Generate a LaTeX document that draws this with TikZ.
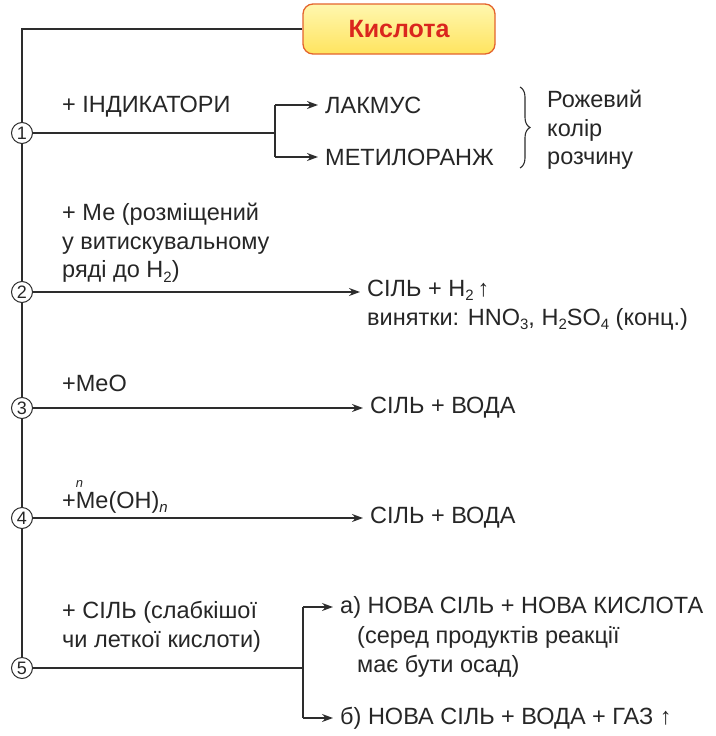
\documentclass[tikz,border=0pt]{standalone}
\usepackage{fontspec}
\setmainfont{Liberation Sans}
\usetikzlibrary{positioning,arrows.meta,decorations.pathreplacing}
\definecolor{kboxtop}{RGB}{255,247,175}
\definecolor{kboxbot}{RGB}{255,228,95}
\definecolor{kboxdraw}{RGB}{228,100,45}
\definecolor{ktitle}{RGB}{218,38,30}
\definecolor{kline}{RGB}{45,45,45}
\newcommand{\ksub}[1]{\raisebox{-0.35ex}{\fontsize{15}{15}\selectfont #1}}

\begin{document}
\begin{tikzpicture}[x=1pt, y=-1pt, every node/.style={font=\fontsize{23.5}{28.5}\selectfont, text=black!85}]
  \tikzset{
    num/.style={draw=kline, circle, line width=1pt, inner sep=0pt, minimum size=21pt, fill=white, font=\fontsize{18}{18}\selectfont},
    wire/.style={kline, line width=1.4pt},
    arr/.style={wire, -{Stealth[length=11pt, width=8pt]}, shorten >=7pt},
    lbl/.style={anchor=west, align=left, inner sep=0pt}
  }
  \useasboundingbox (0,0) rectangle (715,736);

  % Head: the acid box
  \node[draw=kboxdraw, line width=1.3pt, rounded corners=10pt, top color=kboxtop, bottom color=kboxbot,
        minimum width=192pt, minimum height=50pt, text=ktitle,
        font=\fontsize{25}{25}\selectfont\bfseries] (acid) at (399,29) {Кислота};

  % Main line with the numbered steps
  \node[num] (c1) at (22,133) {1};
  \node[num] (c2) at (22,292) {2};
  \node[num] (c3) at (22,408) {3};
  \node[num] (c4) at (22,518) {4};
  \node[num] (c5) at (22,668) {5};
  \coordinate (top) at (22,29);
  \draw[wire] (acid.west) -- (top) -- (c1);
  \draw[wire] (c1) -- (c2);
  \draw[wire] (c2) -- (c3);
  \draw[wire] (c3) -- (c4);
  \draw[wire] (c4) -- (c5);

  % Step 1: indicators
  \node[lbl] (indic) at (62,107) {+ ІНДИКАТОРИ};
  \node[lbl] (lakmus) at (325,105) {ЛАКМУС};
  \node[lbl] (metil) at (325,157) {МЕТИЛОРАНЖ};
  \coordinate (b1) at (275,133);
  \coordinate (b1u) at (275,105);
  \coordinate (b1d) at (275,157);
  \draw[wire] (c1) -- (b1);
  \draw[wire] (b1u) -- (b1d);
  \draw[arr] (b1u) -- (lakmus.west);
  \draw[arr] (b1d) -- (metil.west);
  \coordinate (br1) at (520,87);
  \coordinate (br2) at (520,168);
  \draw[kline, line width=1.1pt, decorate, decoration={brace, amplitude=10pt}] (br1) -- (br2);
  \node[lbl] (pink) at (547,130) {Рожевий\\колір\\розчину};

  % Step 2: metals
  \node[lbl] (metal) at (62,243) {+ Ме (розміщений\\у витискувальному\\ряді до H\ksub{2})};
  \node[lbl] (salt2) at (367,290) {СІЛЬ + H\ksub{2}\,↑};
  \node[lbl] (except) at (367,319) {винятки: HNO\ksub{3}, H\ksub{2}SO\ksub{4} (конц.)};
  \draw[arr] (c2) -- (salt2.west |- c2);

  % Step 3: oxides
  \node[lbl] (oxide) at (62,383) {+MeO};
  \node[lbl] (salt3) at (370,408) {СІЛЬ + ВОДА};
  \draw[arr] (c3) -- (salt3.west);

  % Step 4: bases
  \node[lbl] (base) at (62,497) {+\rlap{\raisebox{0.9em}{\fontsize{13}{13}\selectfont\itshape n}}Me(OH)\ksub{\itshape n}};
  \node[lbl] (salt4) at (370,518) {СІЛЬ + ВОДА};
  \draw[arr] (c4) -- (salt4.west);

  % Step 5: salts
  \node[lbl] (salt) at (62,627) {+ СІЛЬ (слабкішої\\чи леткої кислоти)};
  \node[lbl] (newa) at (340,607) {а) НОВА СІЛЬ + НОВА КИСЛОТА};
  \node[lbl] (note) at (357,652) {(серед продуктів реакції\\має бути осад)};
  \node[lbl] (newb) at (340,718) {б) НОВА СІЛЬ + ВОДА + ГАЗ ↑};
  \coordinate (b5) at (303,668);
  \coordinate (b5u) at (303,607);
  \coordinate (b5d) at (303,718);
  \draw[wire] (c5) -- (b5);
  \draw[wire] (b5u) -- (b5d);
  \draw[arr] (b5u) -- (newa.west);
  \draw[arr] (b5d) -- (newb.west);
\end{tikzpicture}
\end{document}
